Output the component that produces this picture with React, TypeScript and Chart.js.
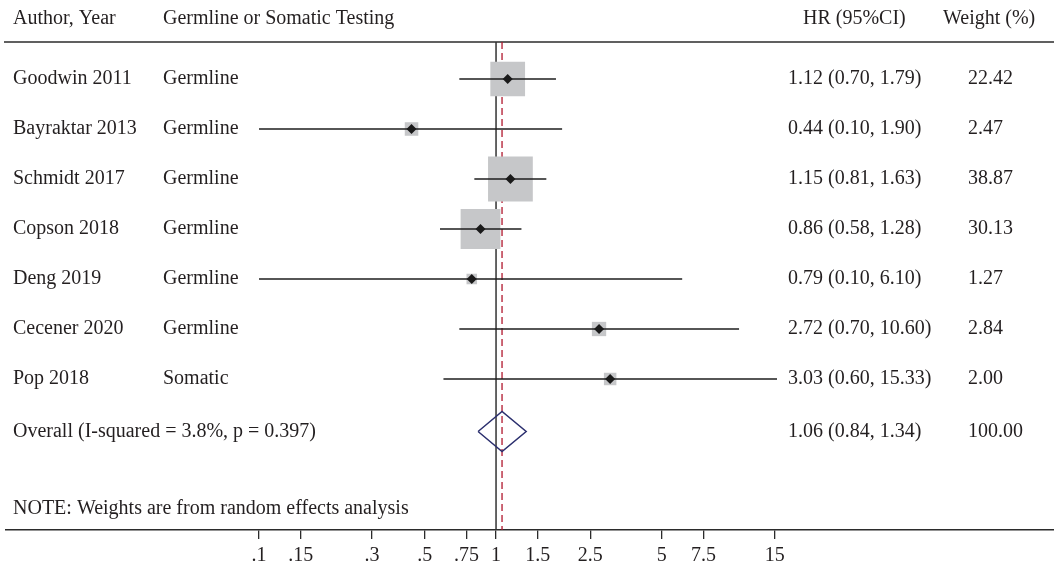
import React, { useEffect, useRef } from "react";
import { Chart, registerables } from "chart.js";

Chart.register(...registerables);

// ---- Study data ----
const studies = [
  "Goodwin 2011",
  "Bayraktar 2013",
  "Schmidt 2017",
  "Copson 2018",
  "Deng 2019",
  "Cecener 2020",
  "Pop 2018",
];
const testing = ["Germline", "Germline", "Germline", "Germline", "Germline", "Germline", "Somatic"];
const hr = [1.12, 0.44, 1.15, 0.86, 0.79, 2.72, 3.03];
const ciLow = [0.7, 0.1, 0.81, 0.58, 0.1, 0.7, 0.6];
const ciHigh = [1.79, 1.9, 1.63, 1.28, 6.1, 10.6, 15.33];
const weights = [22.42, 2.47, 38.87, 30.13, 1.27, 2.84, 2.0];

// ---- Pooled estimate ----
const overallLabel = "Overall (I-squared = 3.8%, p = 0.397)";
const overallHr = 1.06;
const overallLow = 0.84;
const overallHigh = 1.34;
const overallWeight = 100.0;

// ---- Axis ticks ----
const tickValues = [0.1, 0.15, 0.3, 0.5, 0.75, 1, 1.5, 2.5, 5, 7.5, 15];
const tickLabels = [".1", ".15", ".3", ".5", ".75", "1", "1.5", "2.5", "5", "7.5", "15"];

const headers = ["Author, Year", "Germline or Somatic Testing", "HR (95%CI)", "Weight (%)"];
const note = "NOTE: Weights are from random effects analysis";

// ---- Layout / style ----
const W = 1054;
const H = 569;
const FAMILY = '"Liberation Serif", "DejaVu Serif", serif';
const FONT = `20px ${FAMILY}`;
const TEXT = "#231f20";
const LINE = "#2b2b2b";
const X_MIN = 0.00856;
const X_MAX = 226;
const Y_MIN = -0.74;
const Y_MAX = 9.02;
const OVERALL_ROW = 7.05;
const NOTE_ROW = 8.6;

const fmt = (v: number) => v.toFixed(2);

// Box side grows with the square root of the study weight
const boxRadius = (w: number) => (3 + 6.7 * Math.sqrt(w)) / Math.SQRT2;

const forestText = {
  id: "forestText",
  beforeDatasetsDraw(chart: any) {
    const { ctx, chartArea } = chart;
    ctx.save();
    ctx.strokeStyle = LINE;
    ctx.lineWidth = 1.4;
    ctx.beginPath();
    ctx.moveTo(4, chartArea.top);
    ctx.lineTo(W, chartArea.top);
    ctx.stroke();
    ctx.restore();
  },
  afterDraw(chart: any) {
    const { ctx } = chart;
    const y = chart.scales.y;
    ctx.save();
    ctx.font = FONT;
    ctx.fillStyle = TEXT;
    ctx.textBaseline = "middle";
    ctx.textAlign = "left";

    const headY = 19;
    ctx.fillText(headers[0], 13, headY);
    ctx.fillText(headers[1], 163, headY);
    ctx.fillText(headers[2], 803, headY);
    ctx.fillText(headers[3], 943, headY);

    studies.forEach((name, i) => {
      const py = y.getPixelForValue(i);
      ctx.fillText(name, 13, py);
      ctx.fillText(testing[i], 163, py);
      ctx.fillText(`${fmt(hr[i])} (${fmt(ciLow[i])}, ${fmt(ciHigh[i])})`, 788, py);
      ctx.fillText(fmt(weights[i]), 968, py);
    });

    const oy = y.getPixelForValue(OVERALL_ROW);
    ctx.fillText(overallLabel, 13, oy);
    ctx.fillText(`${fmt(overallHr)} (${fmt(overallLow)}, ${fmt(overallHigh)})`, 788, oy);
    ctx.fillText(fmt(overallWeight), 968, oy);

    ctx.fillText(note, 13, y.getPixelForValue(NOTE_ROW));
    ctx.restore();
  },
};

export default function App() {
  const canvasRef = useRef<HTMLCanvasElement | null>(null);

  useEffect(() => {
    document.body.style.margin = "0";
    const canvas = canvasRef.current;
    if (!canvas) return;

    const ciSets = studies.map((_, i) => ({
      data: [
        { x: ciLow[i], y: i },
        { x: ciHigh[i], y: i },
      ],
      showLine: true,
      borderColor: "#1e1e1e",
      borderWidth: 1.4,
      pointRadius: 0,
      order: 1,
    }));

    const chart = new Chart(canvas, {
      type: "scatter",
      data: {
        datasets: [
          {
            // point estimates
            data: hr.map((v, i) => ({ x: v, y: i })),
            pointStyle: "rectRot",
            pointRadius: 5,
            backgroundColor: "#1a1a1a",
            borderColor: "#1a1a1a",
            borderWidth: 0,
            order: 0,
          },
          ...ciSets,
          {
            // pooled estimate diamond
            data: [
              { x: overallLow, y: OVERALL_ROW },
              { x: overallHr, y: OVERALL_ROW - 0.4 },
              { x: overallHigh, y: OVERALL_ROW },
              { x: overallHr, y: OVERALL_ROW + 0.4 },
              { x: overallLow, y: OVERALL_ROW },
            ],
            showLine: true,
            borderColor: "#2b2f6e",
            borderWidth: 1.5,
            pointRadius: 0,
            order: 1,
          },
          {
            // weight boxes
            data: hr.map((v, i) => ({ x: v, y: i })),
            pointStyle: "rect",
            pointRadius: weights.map(boxRadius),
            backgroundColor: "#c6c7c9",
            borderWidth: 0,
            order: 2,
          },
          {
            // line of no effect
            data: [
              { x: 1, y: Y_MIN },
              { x: 1, y: Y_MAX },
            ],
            showLine: true,
            borderColor: "#333333",
            borderWidth: 1.5,
            pointRadius: 0,
            order: 3,
          },
          {
            // pooled estimate reference line
            data: [
              { x: overallHr, y: Y_MIN },
              { x: overallHr, y: Y_MAX },
            ],
            showLine: true,
            borderColor: "#b0182e",
            borderWidth: 1.3,
            borderDash: [7, 4],
            pointRadius: 0,
            order: 3,
          },
        ] as any,
      },
      options: {
        responsive: false,
        animation: false,
        devicePixelRatio: 1,
        layout: { autoPadding: false, padding: { left: 6, right: 0, top: 42, bottom: 0 } },
        plugins: { legend: { display: false }, tooltip: { enabled: false } },
        scales: {
          x: {
            type: "logarithmic",
            position: "bottom",
            min: X_MIN,
            max: X_MAX,
            afterBuildTicks: (scale: any) => {
              scale.ticks = tickValues.map((v) => ({ value: v }));
            },
            afterFit: (scale: any) => {
              scale.height = 39;
              scale.paddingLeft = 0;
              scale.paddingRight = 0;
            },
            grid: {
              drawOnChartArea: false,
              drawTicks: true,
              tickLength: 9,
              color: LINE,
              lineWidth: 1.3,
            },
            border: { display: true, color: LINE, width: 1.4 },
            ticks: {
              autoSkip: false,
              maxRotation: 0,
              padding: 5,
              color: TEXT,
              font: { family: FAMILY, size: 20 },
              callback: (_v: any, index: number) => tickLabels[index],
            },
          },
          y: {
            type: "linear",
            display: false,
            reverse: true,
            min: Y_MIN,
            max: Y_MAX,
          },
        },
      } as any,
      plugins: [forestText],
    });

    return () => chart.destroy();
  }, []);

  return <canvas ref={canvasRef} width={W} height={H} style={{ display: "block" }} />;
}
